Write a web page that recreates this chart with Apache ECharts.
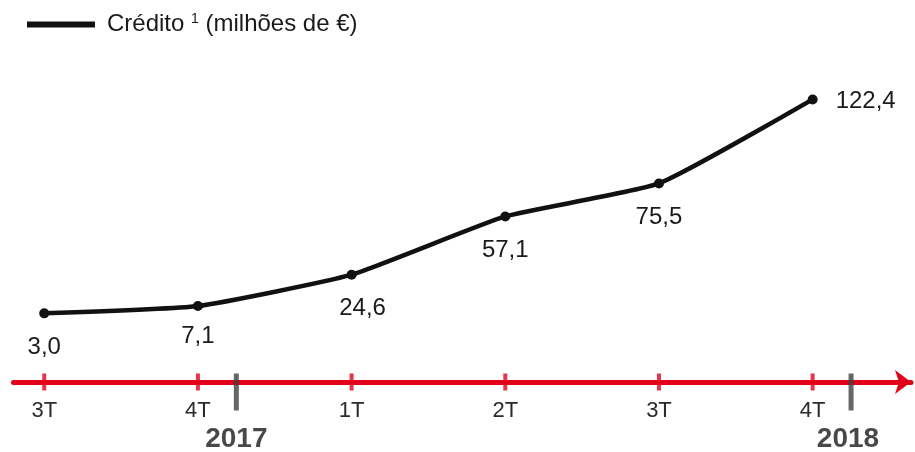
<!DOCTYPE html>
<html><head><meta charset="utf-8">
<script src="https://cdn.jsdelivr.net/npm/echarts@6/dist/echarts.min.js"></script>
<style>html,body{margin:0;padding:0;background:#fff}#c{width:915px;height:452px}</style>
</head><body><div id="c"></div>
<script>
var quarters = ['3T','4T','1T','2T','3T','4T'];
var credito = [3.0, 7.1, 24.6, 57.1, 75.5, 122.4];
var valueLabels = ['3,0','7,1','24,6','57,1','75,5','122,4'];
var years = ['2017','2018'];
var yearPos = [1.25, 5.23];
var sepPos = [1.25, 5.25];
var seriesName = 'Crédito';

var Y_MIN = -35.3, Y_MAX = 144.4;
var red = '#e2001a';
var font = 'Liberation Sans, Arial, sans-serif';

var lineData = credito.map(function(v,i){
  var lab = {show:true, position:'bottom', distance:17, fontSize:24, color:'#1a1a1a', fontFamily:font, formatter: valueLabels[i]};
  if (i===1) lab.distance = 13;
  if (i===2) lab.offset = [11,0];
  if (i===5) { lab.position = 'right'; lab.distance = 18; lab.offset=[0,2]; }
  return {value:[i,v], label:lab};
});

var chart = echarts.init(document.getElementById('c'));
chart.setOption({
  animation:false,
  grid:{left:13.5, right:4, top:60, bottom:70},
  legend:{
    show:true, left:22, top:7, icon:'rect', itemWidth:68, itemHeight:6, itemGap:10,
    data:[seriesName],
    formatter:function(){ return '{p|Crédito }{s|1}{a| (milhões de €)}'; },
    textStyle:{color:'#1a1a1a', fontFamily:font, rich:{
      p:{fontSize:24, fontFamily:font, color:'#1a1a1a', padding:[0,0,0,7]},
      a:{fontSize:24, fontFamily:font, color:'#1a1a1a'},
      s:{fontSize:14, fontFamily:font, color:'#1a1a1a', padding:[0,0,11,0]}
    }}
  },
  xAxis:{type:'value', min:-0.2, max:5.64, splitLine:{show:false},
    axisLine:{show:true, onZero:false, lineStyle:{color:red, width:5}, symbol:['none','arrow'], symbolSize:[18,16]},
    axisTick:{show:false},
    axisLabel:{show:true, customValues:[0,1,2,3,4,5], margin:18, fontSize:22, color:'#2a2a2a', fontFamily:font,
      formatter:function(v){ return quarters[Math.round(v)]; }}
  },
  yAxis:{type:'value', min:Y_MIN, max:Y_MAX, show:false},
  series:[
    {type:'scatter', silent:true, symbol:'rect', symbolSize:[4,17], itemStyle:{color:red}, z:3,
      data:quarters.map(function(q,i){return [i, Y_MIN];})},
    {type:'scatter', silent:true, symbol:'rect', symbolSize:[5,37], symbolOffset:[0,10], itemStyle:{color:'#404040'}, z:4,
      data:sepPos.map(function(x){return [x, Y_MIN];})},
    {type:'scatter', silent:true, symbolSize:1, itemStyle:{color:'rgba(0,0,0,0)'}, z:4,
      label:{show:true, position:'inside', offset:[0,57], fontSize:28, fontWeight:'bold', color:'#1a1a1a', fontFamily:font,
        formatter:function(p){return years[p.dataIndex];}},
      data:yearPos.map(function(x){return [x, Y_MIN];})},
    {name:seriesName, type:'line', smooth:0.15, symbol:'circle', symbolSize:10,
      lineStyle:{color:'#111', width:4.5}, itemStyle:{color:'#111'}, z:5,
      data:lineData}
  ]
});
</script></body></html>
